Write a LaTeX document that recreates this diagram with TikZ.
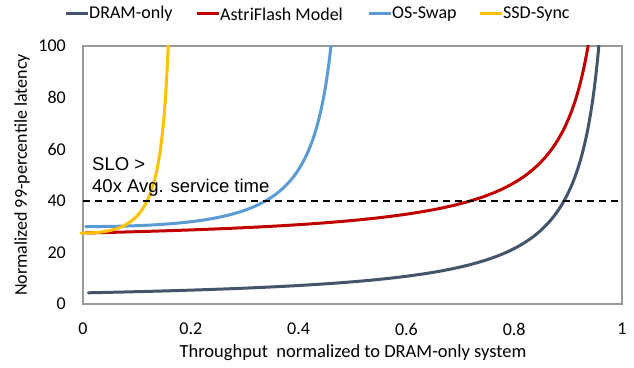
\documentclass[tikz,border=0pt]{standalone}
\usepackage{fontspec}
\setmainfont{Carlito}
\newfontfamily\arialf{Liberation Sans}
\definecolor{dramc}{HTML}{44546A}
\definecolor{astric}{HTML}{C00000}
\definecolor{swapc}{HTML}{5B9BD5}
\definecolor{ssdc}{HTML}{FFC000}
\definecolor{framec}{HTML}{999999}
\definecolor{txtc}{HTML}{000000}
\begin{document}
\begin{tikzpicture}[x=1pt,y=1pt,
  lbl/.style={font=\fontsize{18}{20}\selectfont, inner sep=0pt, text=txtc},
  curve/.style={line width=3pt, line cap=round},
  swatch/.style={line width=3pt},
  frameline/.style={draw=framec, line width=1.1pt},
  slo/.style={draw=black, line width=1.8pt, dash pattern=on 7pt off 5pt}]
\useasboundingbox (0,0) rectangle (634,367);
\fill[white] (0,0) rectangle (634,367);
% legend
\coordinate (s1a) at (66,353); \coordinate (s1b) at (88,353);
\draw[swatch,dramc] (s1a) -- (s1b);
\node[lbl,anchor=west] (leg1) at (89,353) {DRAM-only};
\coordinate (s2a) at (197,353); \coordinate (s2b) at (219,353);
\draw[swatch,astric] (s2a) -- (s2b);
\node[lbl,anchor=west] (leg2) at (220,353) {AstriFlash Model};
\coordinate (s3a) at (369,353); \coordinate (s3b) at (391,353);
\draw[swatch,swapc] (s3a) -- (s3b);
\node[lbl,anchor=west] (leg3) at (392,353) {OS-Swap};
\coordinate (s4a) at (480,353); \coordinate (s4b) at (502,353);
\draw[swatch,ssdc] (s4a) -- (s4b);
\node[lbl,anchor=west] (leg4) at (503,353) {SSD-Sync};
% axis titles
\node[lbl,font=\fontsize{18.5}{20}\selectfont] (xtitle) at (353,14) {Throughput\ \ normalized to DRAM-only system};
\node[lbl,rotate=90] (ytitle) at (22,192) {Normalized 99-percentile latency};
\begin{scope}[shift={(83,63)}, x=539pt, y=2.58pt]
  \draw[frameline] (0,0) rectangle (1,100);
  \foreach \v in {0,20,40,60,80,100}
    \node[lbl,anchor=east] (yt\v) at ([xshift=-17pt]0,\v) {\v};
  \foreach \v/\t in {0/0,0.2/0.2,0.4/0.4,0.6/0.6,0.8/0.8,1/1}
    \node[lbl] (xt\t) at ([yshift=-25pt]\v,0) {\t};
  \begin{scope}
    \clip (-0.01,0) rectangle (1,100);
    \draw[curve,dramc] plot[domain=0.01:0.959,samples=400] (\x,{4.3/(1-\x)});
    \draw[curve,astric] plot[domain=0.005:0.941,samples=400] (\x,{22.62+4.876/(1-\x)});
    \draw[curve,swapc] plot[domain=0.005:0.4625,samples=400] (\x,{30+14.29*\x*\x/(0.5032-\x)});
    \draw[curve,ssdc] plot[domain=-0.004:0.1588,samples=300] (\x,{27.5+49.45*\x*\x/(0.17503-\x)});
  \end{scope}
  \coordinate (sloa) at (0,40); \coordinate (slob) at (1,40);
  \draw[slo] (sloa) -- (slob);
\end{scope}
\node[lbl,font=\arialf\fontsize{18.5}{22}\selectfont,anchor=west,align=left] (slotext) at (92,190) {SLO >\\40x Avg. service time};
\end{tikzpicture}
\end{document}
